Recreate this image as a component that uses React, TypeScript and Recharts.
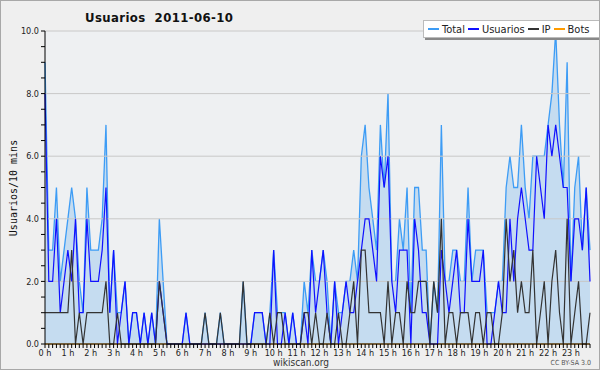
import React from "react";
import { ComposedChart, Area, Line, XAxis, YAxis, ReferenceLine } from "recharts";

// one value per 10 minutes, 00:00 .. 23:50
const totalValues = [
  9, 3, 3, 5, 2, 3, 4, 5, 4, 2, 1, 5, 3, 3, 3, 4, 7, 1, 3, 1, 1, 2, 0, 1,
  1, 0, 1, 0, 1, 0, 4, 2, 0, 0, 0, 0, 0, 1, 0, 0, 0, 0, 1, 0, 0, 0, 1, 0,
  0, 0, 0, 0, 2, 0, 0, 1, 1, 1, 0, 1, 3, 1, 1, 1, 0, 1, 0, 0, 2, 1, 3, 2,
  2, 3, 2, 0, 2, 1, 1, 2, 2, 3, 2, 6, 7, 5, 4, 3, 7, 5, 8, 2, 2, 4, 3, 5,
  1, 5, 5, 3, 3, 0, 2, 1, 7, 2, 2, 3, 3, 2, 2, 5, 2, 3, 3, 3, 1, 1, 1, 2,
  2, 5, 6, 5, 5, 7, 5, 4, 6, 6, 6, 6, 7, 8, 10, 7, 5, 9, 2, 5, 6, 3, 5, 3,
];
const usuariosValues = [
  8, 2, 2, 4, 1, 2, 3, 2, 4, 1, 1, 4, 2, 2, 2, 3, 5, 1, 3, 0, 1, 2, 0, 1,
  1, 0, 1, 0, 1, 0, 2, 1, 0, 0, 0, 0, 0, 1, 0, 0, 0, 0, 0, 0, 0, 0, 0, 0,
  0, 0, 0, 0, 0, 0, 0, 1, 1, 1, 0, 0, 3, 0, 0, 1, 0, 1, 0, 0, 1, 0, 3, 1,
  2, 3, 1, 0, 2, 0, 1, 2, 1, 1, 2, 3, 4, 4, 3, 2, 6, 5, 6, 2, 1, 3, 3, 3,
  0, 4, 3, 1, 1, 0, 0, 0, 3, 2, 1, 2, 3, 1, 1, 4, 2, 2, 2, 3, 0, 0, 1, 2,
  1, 1, 4, 2, 4, 5, 4, 3, 3, 6, 5, 4, 7, 6, 7, 6, 5, 5, 2, 4, 4, 3, 5, 2,
];
const ipValues = [
  1, 1, 1, 1, 1, 1, 1, 3, 0, 1, 0, 1, 1, 1, 1, 1, 2, 0, 0, 1, 0, 0, 0, 0,
  0, 0, 0, 0, 0, 0, 2, 1, 0, 0, 0, 0, 0, 0, 0, 0, 0, 0, 1, 0, 0, 0, 1, 0,
  0, 0, 0, 0, 2, 0, 0, 0, 0, 0, 0, 1, 0, 1, 1, 0, 0, 0, 0, 0, 1, 1, 0, 1,
  0, 0, 1, 0, 0, 1, 0, 0, 1, 2, 0, 3, 3, 1, 1, 1, 1, 0, 2, 0, 1, 1, 0, 2,
  1, 1, 2, 2, 2, 0, 2, 1, 4, 0, 1, 1, 0, 1, 1, 1, 0, 1, 1, 0, 1, 1, 0, 0,
  1, 4, 2, 3, 1, 2, 1, 1, 3, 0, 1, 2, 0, 2, 3, 1, 0, 4, 0, 1, 2, 0, 0, 1,
];
const botsValues = new Array(144).fill(0);

const hourLabels = [
  "0 h", "1 h", "2 h", "3 h", "4 h", "5 h", "6 h", "7 h", "8 h", "9 h", "10 h", "11 h",
  "12 h", "13 h", "14 h", "15 h", "16 h", "17 h", "18 h", "19 h", "20 h", "21 h", "22 h", "23 h",
];
const yTicks = [0, 0.5, 1, 1.5, 2, 2.5, 3, 3.5, 4, 4.5, 5, 5.5, 6, 6.5, 7, 7.5, 8, 8.5, 9, 9.5, 10];
const gridLines = [2, 4, 6, 8, 10];

const data = totalValues.map((total, i) => ({
  slot: i,
  total,
  usuarios: usuariosValues[i],
  ip: ipValues[i],
  bots: botsValues[i],
}));

const font = "'DejaVu Sans Condensed', 'DejaVu Sans', sans-serif";

const legendItems = [
  { name: "Total", color: "#3d9cf5" },
  { name: "Usuarios", color: "#1010ff" },
  { name: "IP", color: "#333333" },
  { name: "Bots", color: "#ff9c00" },
];

export default function App() {
  return (
    <div
      style={{
        position: "absolute",
        left: 0,
        top: 0,
        width: 600,
        height: 370,
        background: "#efefef",
        boxSizing: "border-box",
        border: "1px solid #a8a8a8",
        fontFamily: font,
        overflow: "hidden",
      }}
    >
      <div
        style={{
          position: "absolute",
          left: 84,
          top: 9,
          fontSize: 13,
          fontWeight: "bold",
          fontStretch: "condensed",
          letterSpacing: 0.4,
          color: "#111",
          whiteSpace: "pre",
        }}
      >
        {"Usuarios  2011-06-10"}
      </div>

      <div
        style={{
          position: "absolute",
          left: 3,
          top: 187,
          transform: "translate(-50%, -50%) rotate(-90deg)",
          marginLeft: 9,
          fontFamily: "'DejaVu Sans Mono', monospace",
          fontSize: 10,
          color: "#111",
          whiteSpace: "nowrap",
        }}
      >
        Usuarios/10 mins
      </div>

      <div style={{ position: "absolute", left: -1, top: -1 }}>
        <ComposedChart
          width={600}
          height={370}
          data={data}
          margin={{ top: 31, right: 10, bottom: 12, left: 0 }}
        >
          <rect x={45} y={31} width={545} height={313} fill="#eef0f2" />
          {gridLines.map((v) => (
            <ReferenceLine key={v} y={v} stroke="#c8c8c8" strokeWidth={1} />
          ))}
          <XAxis
            dataKey="slot"
            type="category"
            interval={0}
            height={14}
            tickSize={4}
            axisLine={{ stroke: "#000" }}
            tickLine={{ stroke: "#000" }}
            tick={{ fontSize: 9, fill: "#222", fontFamily: font }}
            tickFormatter={(v: number) => (v % 6 === 0 ? hourLabels[v / 6] : "")}
          />
          <YAxis
            type="number"
            domain={[0, 10]}
            ticks={yTicks}
            interval={0}
            width={45}
            tickSize={4}
            axisLine={{ stroke: "#000" }}
            tickLine={{ stroke: "#000" }}
            tick={{ fontSize: 9, fill: "#222", fontFamily: font }}
            tickFormatter={(v: number) => (v % 2 === 0 ? v.toFixed(1) : "")}
          />
          <Area
            dataKey="total"
            type="linear"
            stroke="#3d9cf5"
            strokeWidth={1.3}
            fill="#c5dcf0"
            fillOpacity={1}
            dot={false}
            activeDot={false}
            isAnimationActive={false}
          />
          <Line dataKey="bots" type="linear" stroke="#ff9c00" strokeWidth={1} dot={false} isAnimationActive={false} />
          <Line dataKey="usuarios" type="linear" stroke="#1010ff" strokeWidth={1.2} dot={false} isAnimationActive={false} />
          <Line dataKey="ip" type="linear" stroke="#333333" strokeWidth={1.2} dot={false} isAnimationActive={false} />
        </ComposedChart>
      </div>

      <div
        style={{
          position: "absolute",
          left: 422,
          top: 19,
          width: 172,
          height: 16,
          background: "#fff",
          border: "1px solid #bbb",
          boxShadow: "2px 2px 0 #888",
          display: "flex",
          alignItems: "center",
          fontSize: 11,
          fontStretch: "condensed",
          color: "#222",
          paddingLeft: 4,
        }}
      >
        {legendItems.map((item) => (
          <div key={item.name} style={{ display: "flex", alignItems: "center", marginRight: 3 }}>
            <span style={{ display: "inline-block", width: 11, height: 1.5, background: item.color, marginRight: 3 }} />
            <span>{item.name}</span>
          </div>
        ))}
      </div>

      <div
        style={{
          position: "absolute",
          left: 0,
          width: 600,
          top: 357,
          lineHeight: "10px",
          textAlign: "center",
          fontSize: 10,
          color: "#333",
        }}
      >
        wikiscan.org
      </div>
      <div style={{ position: "absolute", right: 8, top: 358, lineHeight: "8px", fontSize: 7, color: "#555" }}>
        CC BY-SA 3.0
      </div>
    </div>
  );
}
